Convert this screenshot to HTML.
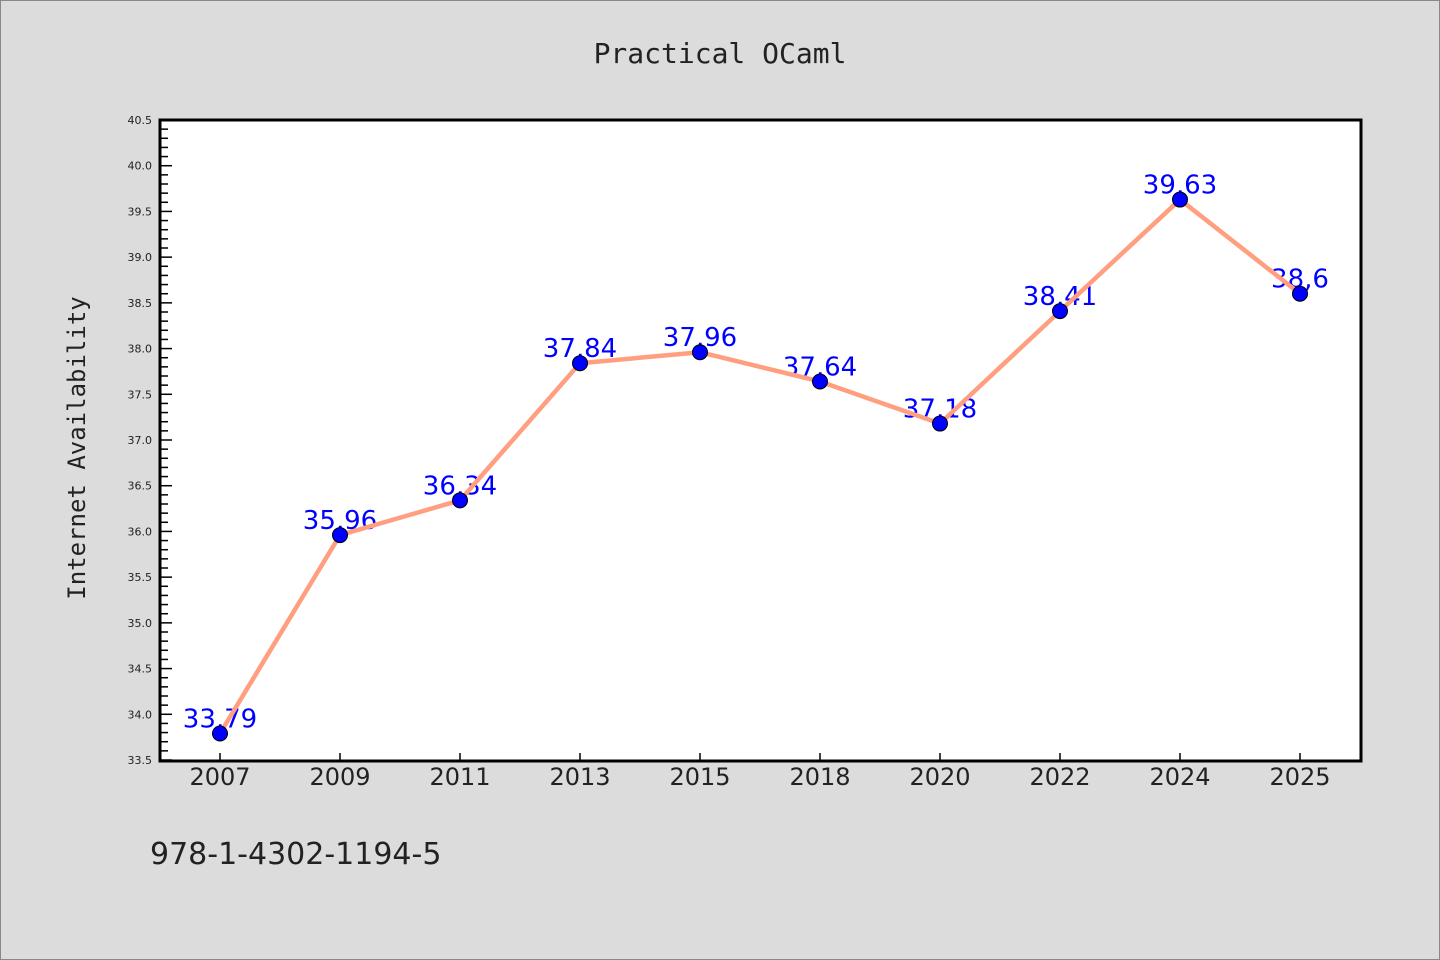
<!DOCTYPE html>
<html><head><meta charset="utf-8"><style>
html,body{margin:0;padding:0;background:#dcdcdc;}
svg{display:block;font-family:"DejaVu Sans","Liberation Sans",sans-serif;}
</style></head><body>
<svg id="chart" width="1440" height="960">
<rect x="0.5" y="0.5" width="1439" height="959" fill="#dcdcdc" stroke="#888"/>
<text x="720" y="63" text-anchor="middle" font-size="28" fill="#222" font-family="'DejaVu Sans Mono','Liberation Mono',monospace">Practical OCaml</text>
<rect x="160" y="120" width="1201" height="641" fill="#fff"/>
<g id="ticks"></g>
<g id="labels"></g>
<g id="series"></g>
<rect x="160" y="120" width="1201" height="641" fill="none" stroke="#000" stroke-width="3"/>
<text transform="translate(85,448) rotate(-90)" text-anchor="middle" font-size="24" fill="#222" font-family="'DejaVu Sans Mono','Liberation Mono',monospace">Internet Availability</text>
<text x="150" y="864" font-size="30" fill="#222">978-1-4302-1194-5</text>
</svg>
<script>
const categories=["2007","2009","2011","2013","2015","2018","2020","2022","2024","2025"];
const values=[33.79,35.96,36.34,37.84,37.96,37.64,37.18,38.41,39.63,38.6];
const valueLabels=["33.79","35.96","36.34","37.84","37.96","37.64","37.18","38.41","39.63","38.6"];
const yTicks=[33.5,34.0,34.5,35.0,35.5,36.0,36.5,37.0,37.5,38.0,38.5,39.0,39.5,40.0,40.5];
const NS="http://www.w3.org/2000/svg";
const L=160,R=1361,T=120,B=760,yMin=33.5,yMax=40.5;
const x=i=>220+i*(R-L-1)/10;
const y=v=>B-(v-yMin)/(yMax-yMin)*(B-T);
function mk(t,a,p){const e=document.createElementNS(NS,t);for(const k in a)e.setAttribute(k,a[k]);p.appendChild(e);return e;}
const tk=document.getElementById('ticks');
for(let v=yMin;v<=yMax+1e-6;v+=0.1){
  const major=Math.abs(v*2-Math.round(v*2))<1e-6;
  const l=mk('line',{x1:L,x2:L+(major?12:8),y1:y(v),y2:y(v),stroke:'#000','stroke-width':1.5},tk);
  
  
}
yTicks.forEach(v=>{
  const t=mk('text',{x:L-8,y:y(v)+4,'text-anchor':'end','font-size':11,fill:'#222'},tk);
  t.textContent=v.toFixed(1);
  
  
});
categories.forEach((c,i)=>{
  const l=mk('line',{x1:x(i),x2:x(i),y1:B,y2:B-7,stroke:'#000','stroke-width':1.5},tk);
  
  
  const t=mk('text',{x:x(i),y:785,'text-anchor':'middle','font-size':24,fill:'#222'},tk);
  t.textContent=c;
  
  
});
const lb=document.getElementById('labels');
values.forEach((v,i)=>{
  const t=mk('text',{x:x(i),y:y(v)-6,'text-anchor':'middle','font-size':26,fill:'#0000ff'},lb);
  t.textContent=valueLabels[i].replace('.',',');
  
  
});
const sr=document.getElementById('series');
const pl=mk('polyline',{points:values.map((v,i)=>x(i)+','+y(v)).join(' '),fill:'none',stroke:'#ff9f7f','stroke-width':4.5,'stroke-linejoin':'round'},sr);


values.forEach((v,i)=>{
  const c=mk('circle',{cx:x(i),cy:y(v),r:7.5,fill:'#0000ff',stroke:'#000','stroke-width':1},sr);
  
  
});
</script>
</body></html>
